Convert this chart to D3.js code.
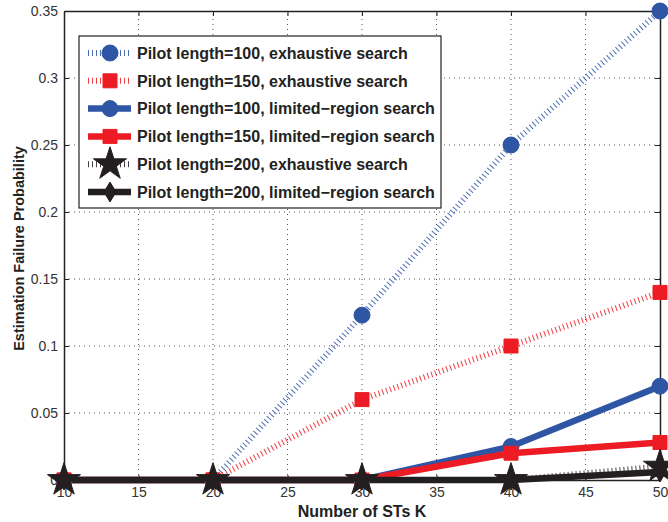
<!DOCTYPE html>
<html><head><meta charset="utf-8">
<script src="https://cdn.jsdelivr.net/npm/d3@7"></script>
<style>body{margin:0;background:#fff}svg{display:block}</style>
</head><body>
<script>
const K = [10, 20, 30, 40, 50];
const p100Exh = [0, 0, 0.123, 0.25, 0.35];
const p150Exh = [0, 0, 0.06, 0.10, 0.14];
const p100Lim = [0, 0, 0, 0.025, 0.07];
const p150Lim = [0, 0, 0, 0.02, 0.028];
const p200Exh = [0, 0, 0, 0, 0.01];
const p200Lim = [0, 0, 0, 0, 0.006];
const xTicks = [10, 15, 20, 25, 30, 35, 40, 45, 50];
const yTicks = [0, 0.05, 0.1, 0.15, 0.2, 0.25, 0.3, 0.35];
const seriesNames = [
  "Pilot length=100, exhaustive search",
  "Pilot length=150, exhaustive search",
  "Pilot length=100, limited\u2212region search",
  "Pilot length=150, limited\u2212region search",
  "Pilot length=200, exhaustive search",
  "Pilot length=200, limited\u2212region search"
];

const BLUE = "#2f55a5", RED = "#ed1c24", BLACK = "#231f20";
const series = [
  {name: seriesNames[0], v: p100Exh, color: BLUE, dotted: true, marker: "circle"},
  {name: seriesNames[1], v: p150Exh, color: RED, dotted: true, marker: "square"},
  {name: seriesNames[2], v: p100Lim, color: BLUE, dotted: false, marker: "circle"},
  {name: seriesNames[3], v: p150Lim, color: RED, dotted: false, marker: "square"},
  {name: seriesNames[4], v: p200Exh, color: BLACK, dotted: true, marker: "star"},
  {name: seriesNames[5], v: p200Lim, color: BLACK, dotted: false, marker: "diamond"}
];

const W = 668, H = 522;
const m = {l: 64, r: 8, t: 11, b: 42};
const svg = d3.select("body").append("svg").attr("width", W).attr("height", H);
const x = d3.scaleLinear().domain([10, 50]).range([m.l, W - m.r]);
const y = d3.scaleLinear().domain([0, 0.35]).range([H - m.b, m.t]);

// grid
const g = svg.append("g");
g.selectAll(".gx").data(xTicks.slice(1, -1)).join("line")
  .attr("x1", d => x(d)).attr("x2", d => x(d)).attr("y1", y(0)).attr("y2", y(0.35))
  .attr("stroke", "#555").attr("stroke-width", 1).attr("stroke-dasharray", "1,4");
g.selectAll(".gy").data(yTicks.slice(1, -1)).join("line")
  .attr("y1", d => y(d)).attr("y2", d => y(d)).attr("x1", x(10)).attr("x2", x(50))
  .attr("stroke", "#555").attr("stroke-width", 1).attr("stroke-dasharray", "1,4");

// axes
const fontTick = "'Liberation Sans', Arial, sans-serif";
const ax = svg.append("g").attr("transform", `translate(0,${y(0)})`)
  .call(d3.axisBottom(x).tickValues(xTicks).tickSizeInner(-5).tickSizeOuter(0).tickPadding(7));
const ay = svg.append("g").attr("transform", `translate(${x(10)},0)`)
  .call(d3.axisLeft(y).tickValues(yTicks).tickFormat(d => d === 0 ? "0" : d3.format("")(+d.toFixed(2))).tickSizeInner(-5).tickSizeOuter(0).tickPadding(6));
const axT = svg.append("g").attr("transform", `translate(0,${y(0.35)})`)
  .call(d3.axisTop(x).tickValues(xTicks).tickSizeInner(-5).tickSizeOuter(0).tickFormat(""));
const ayR = svg.append("g").attr("transform", `translate(${x(50)},0)`)
  .call(d3.axisRight(y).tickValues(yTicks).tickSizeInner(-5).tickSizeOuter(0).tickFormat(""));
[ax, ay, axT, ayR].forEach(a => {
  a.select(".domain").attr("stroke", "#222").attr("stroke-width", 1.5);
  a.selectAll(".tick line").attr("stroke", "#222");
  a.selectAll("text").attr("font-family", fontTick).attr("font-size", 14).attr("fill", "#333");
});

// lines
const line = d3.line().x((d, i) => x(K[i])).y(d => y(d));
const sym = {
  circle: d3.symbol().type(d3.symbolCircle).size(Math.PI * 64),
  square: d3.symbol().type(d3.symbolSquare).size(196),
  star: d3.symbol().type(d3.symbolStar).size(340),
};
function diamondPath() { return "M0,-10L6,0L0,10L-6,0Z"; }
function drawMarker(sel, s) {
  if (s.marker === "diamond") sel.attr("d", diamondPath());
  else sel.attr("d", sym[s.marker]());
}

const plot = svg.append("g");
series.forEach(s => {
  plot.append("path").datum(s.v).attr("d", line).attr("fill", "none")
    .attr("stroke", s.color)
    .attr("stroke-width", s.dotted ? 6 : 6.5)
    .attr("stroke-dasharray", s.dotted ? "1,3" : null)
    .attr("opacity", s.dotted ? 0.85 : 1);
});
series.forEach(s => {
  plot.selectAll(null).data(s.v).join("path")
    .attr("transform", (d, i) => `translate(${x(K[i])},${y(d)})`)
    .call(sel => drawMarker(sel, s))
    .attr("fill", s.color).attr("stroke", s.color).attr("stroke-width", 1);
});

// legend
const lg = svg.append("g");
lg.append("rect").attr("x", 79).attr("y", 36).attr("width", 362).attr("height", 172)
  .attr("fill", "#fff").attr("stroke", "#222").attr("stroke-width", 1.2);
series.forEach((s, i) => {
  const yy = 53 + i * 27.8;
  lg.append("line").attr("x1", 88).attr("x2", 131).attr("y1", yy).attr("y2", yy)
    .attr("stroke", s.color).attr("stroke-width", s.dotted ? 6 : 6.5)
    .attr("stroke-dasharray", s.dotted ? "1,3" : null).attr("opacity", s.dotted ? 0.85 : 1);
  lg.append("path").attr("transform", `translate(110,${yy})`).call(sel => drawMarker(sel, s))
    .attr("fill", s.color).attr("stroke", s.color);
  lg.append("text").attr("x", 137).attr("y", yy).attr("dy", "0.36em")
    .attr("font-family", "'Liberation Sans', Arial, sans-serif").attr("font-weight", "bold")
    .attr("font-size", 16).attr("fill", "#222").text(s.name);
});

// axis labels
svg.append("text").attr("x", (x(10) + x(50)) / 2).attr("y", 517).attr("text-anchor", "middle")
  .attr("font-family", "'Liberation Sans', Arial, sans-serif").attr("font-weight", "bold")
  .attr("font-size", 16).attr("fill", "#222").text("Number of STs K");
svg.append("text").attr("transform", `translate(24,${(y(0) + y(0.35)) / 2 + 3}) rotate(-90)`)
  .attr("text-anchor", "middle")
  .attr("font-family", "'Liberation Sans', Arial, sans-serif").attr("font-weight", "bold")
  .attr("font-size", 14.5).attr("fill", "#222").text("Estimation Failure Probability");
</script>
</body></html>
